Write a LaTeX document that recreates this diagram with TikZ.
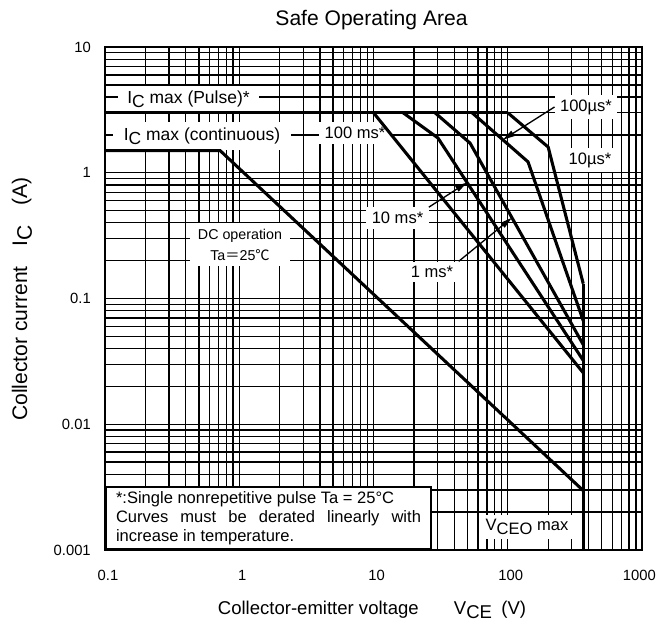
\documentclass[tikz,border=0pt]{standalone}
\usepackage{fontspec}
\setmainfont{Liberation Sans}
\newfontfamily\cjkfont{Noto Sans CJK SC}
\usetikzlibrary{arrows.meta}

\newcommand{\lowsub}[1]{\raisebox{-0.22em}{#1}}

\tikzset{
  decades/.style={shift={(179.44pt,343.69pt)}, x=100.69pt, y=94.31pt},
  gridline/.style={line width=1pt},
  frame/.style={line width=1.6pt},
  curve/.style={line width=2.3pt},
  tag/.style={fill=white, inner xsep=4pt, inner ysep=3.5pt, font=\fontsize{12.4}{14}\selectfont},
  pointer/.style={line width=1pt, -{Triangle[length=9pt, width=4.5pt]}},
  ticklabel/.style={font=\fontsize{11.1}{13}\selectfont, inner sep=0pt}
}

\begin{document}
\begin{tikzpicture}[x=0.75pt, y=0.75pt]
  \useasboundingbox (0,0) rectangle (656,631);

  % Title and axis names
  \node[font=\fontsize{15.8}{18}\selectfont] (title) at (371.5,611) {Safe Operating Area};
  \node[font=\fontsize{13.9}{16}\selectfont] (xname) at (372,21)
    {Collector-emitter voltage\hspace{1.9em}V\lowsub{CE}\hspace{0.5em}(V)};
  \node[font=\fontsize{15.8}{18}\selectfont, rotate=90] (yname) at (22,332)
    {Collector current\hspace{0.95em}I\lowsub{C}\hspace{0.95em}(A)};

  % log grid, one unit = one decade, origin at 1 V / 1 A
  \begin{scope}[decades]
    \foreach \e in {-1,...,2}
      \foreach \k in {1,...,9}
        \draw[gridline] ({\e+log10(\k)},-3) -- ({\e+log10(\k)},1);
    \foreach \e in {-3,...,0}
      \foreach \k in {1,...,9}
        \draw[gridline] (-1,{\e+log10(\k)}) -- (3,{\e+log10(\k)});
    \draw[frame] (-1,-3) rectangle (3,1);

    % tick labels
    \foreach \e/\lab/\n in {-1/0.1/a, 0/1/b, 1/10/c, 2/100/d}
      \node[ticklabel] (vx\n) at ([xshift=2.25pt, yshift=-18.75pt]\e,-3) {\lab};
    \node[ticklabel, anchor=east] (vxe) at ([xshift=10.5pt, yshift=-18.75pt]3,-3) {1000};
    \foreach \e/\lab/\n in {-3/0.001/a, -2/0.01/b, -1/0.1/c, 0/1/d, 1/10/e}
      \node[ticklabel, anchor=east] (iy\n) at ([xshift=-10.5pt]-1,\e) {\lab};
  \end{scope}

  % Curve labels (white boxes cut the grid)
  \node[tag, font=\fontsize{13.1}{15}\selectfont, inner xsep=7.3pt] (lpulse) at (188.5,532) {I\lowsub{C} max (Pulse)*};
  \node[tag, font=\fontsize{13.1}{15}\selectfont, inner xsep=8pt, inner ysep=4pt] (lcont) at (202,495) {I\lowsub{C} max (continuous)};
  \node[tag] (l100ms) at (355,498) {100 ms*};
  \node[tag, align=center, font=\fontsize{10.7}{15.75}\selectfont, inner xsep=6pt, inner ysep=4.5pt] (ldc) at (240,386.5)
    {DC operation\\Ta{\cjkfont ＝}25{\cjkfont ℃}};
  \node[tag] (l10ms) at (397.5,413) {10 ms*};
  \node[tag] (l1ms) at (432,359) {1 ms*};
  \node[tag] (l100us) at (586,524) {100µs*};
  \node[tag] (l10us) at (590,471) {10µs*};
  \node[tag] (lvceo) at (527,104) {V\lowsub{CEO} max};

  \begin{scope}[decades]
    % DC operation
    \draw[curve] (-1,{log10(1.5)}) -- ({log10(0.72)},{log10(1.5)}) -- ({log10(365)},{log10(0.00296)});
    % pulse current limit and VCEO limit
    \draw[curve] (-1,{log10(3)}) -- (2,{log10(3)});
    \draw[curve] ({log10(365)},-3) -- ({log10(365)},{log10(0.128)});
    % single pulse curves
    \draw[curve] (1,{log10(3)}) -- ({log10(365)},{log10(0.0256)});
    \draw[curve] ({log10(16.6)},{log10(3)}) -- ({log10(30.2)},{log10(1.89)})
      -- coordinate[pos=0.2] (at10ms) ({log10(365)},{log10(0.0313)});
    \draw[curve] ({log10(28.7)},{log10(3)}) -- ({log10(52.4)},{log10(1.72)})
      -- coordinate[pos=0.37] (at1ms) ({log10(365)},{log10(0.0427)});
    \draw[curve] ({log10(54.2)},{log10(3)}) -- coordinate[pos=0.55] (at100us) ({log10(141.6)},{log10(1.22)})
      -- ({log10(365)},{log10(0.065)});
    \draw[curve] (2,{log10(3)}) -- ({log10(200)},{log10(1.6)}) -- ({log10(365)},{log10(0.128)});
  \end{scope}

  % pointers
  \draw[pointer] (l10ms.north east) -- (at10ms);
  \draw[pointer] (l1ms.north east) -- (at1ms);
  \draw[pointer] (l100us.west) -- (at100us);

  % footnote
  \node[draw, fill=white, line width=1.5pt, anchor=south west, text width=228.75pt, inner xsep=7.5pt,
        minimum height=45pt, align=justify, font=\fontsize{12.4}{14.25}\selectfont] (note) at (105,81)
    {*:Single nonrepetitive pulse Ta = 25°C\\Curves must be derated linearly with\linebreak increase in temperature.};
\end{tikzpicture}
\end{document}
